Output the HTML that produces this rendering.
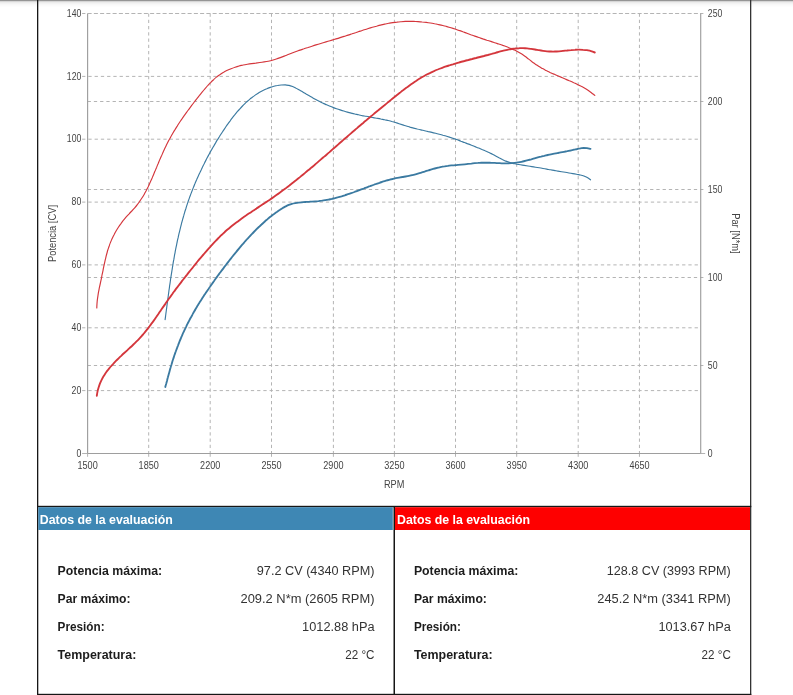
<!DOCTYPE html>
<html lang="es"><head><meta charset="utf-8"><title>Datos de la evaluación</title>
<style>html,body{margin:0;padding:0;background:#fff;}body{width:793px;height:695px;overflow:hidden;position:relative;font-family:"Liberation Sans",sans-serif;}svg{position:absolute;left:0;top:0;display:block;will-change:transform;}text{font-family:"Liberation Sans",sans-serif;}.ax{font-size:10.7px;fill:#444;}.at{font-size:10px;}.lb{font-size:12px;font-weight:bold;fill:#1c1c1c;}.vl{font-size:12px;fill:#333;}.hd{font-size:12px;font-weight:bold;fill:#fff;}</style></head><body>
<svg width="793" height="695" viewBox="0 0 793 695">
<rect x="0" y="0" width="793" height="695" fill="#fff"/>
<rect x="0" y="0" width="793" height="1" fill="#959595"/>
<rect x="0" y="1" width="793" height="1" fill="#d6d6d6"/>
<rect x="0" y="2" width="793" height="1" fill="#ececec"/>
<rect x="0" y="3" width="793" height="1" fill="#f3f3f3"/>
<rect x="0" y="4" width="793" height="1" fill="#f8f8f8"/>
<rect x="0" y="5" width="793" height="1" fill="#fbfbfb"/>
<rect x="0" y="6" width="793" height="1" fill="#fdfdfd"/>
<g stroke="#b4b4b4" stroke-width="1" stroke-dasharray="3.3 2.95" fill="none" shape-rendering="auto">
<path d="M148.70 13.5V453.5"/>
<path d="M210.20 13.5V453.5"/>
<path d="M271.50 13.5V453.5"/>
<path d="M333.40 13.5V453.5"/>
<path d="M394.40 13.5V453.5"/>
<path d="M455.50 13.5V453.5"/>
<path d="M516.70 13.5V453.5"/>
<path d="M578.20 13.5V453.5"/>
<path d="M639.45 13.5V453.5"/>
<path d="M82.1 390.6H698.7"/>
<path d="M82.1 327.8H698.7"/>
<path d="M82.1 264.9H698.7"/>
<path d="M82.1 202.1H698.7"/>
<path d="M82.1 139.2H698.7"/>
<path d="M82.1 76.4H698.7"/>
<path d="M82.1 13.5H698.7"/>
<path d="M87.6 365.5H705.2"/>
<path d="M87.6 277.5H705.2"/>
<path d="M87.6 189.5H705.2"/>
<path d="M87.6 101.5H705.2"/>
<path d="M87.6 13.5H705.2"/>
</g>
<g stroke="#b4b4b4" stroke-width="1" fill="none">
<path d="M82.1 453.5H87.6"/>
<path d="M700.7 453.5H705.2"/>
<path d="M87.60 453.5V456.8" stroke="#b4b4b4"/>
<path d="M148.70 453.5V456.8" stroke="#b4b4b4"/>
<path d="M210.20 453.5V456.8" stroke="#b4b4b4"/>
<path d="M271.50 453.5V456.8" stroke="#b4b4b4"/>
<path d="M333.40 453.5V456.8" stroke="#b4b4b4"/>
<path d="M394.40 453.5V456.8" stroke="#b4b4b4"/>
<path d="M455.50 453.5V456.8" stroke="#b4b4b4"/>
<path d="M516.70 453.5V456.8" stroke="#b4b4b4"/>
<path d="M578.20 453.5V456.8" stroke="#b4b4b4"/>
<path d="M639.45 453.5V456.8" stroke="#b4b4b4"/>
</g>
<g stroke="#9e9e9e" stroke-width="1.15" fill="none">
<path d="M87.6 13.5V453.5"/>
<path d="M700.7 13.5V453.5"/>
<path d="M87.6 453.5H700.7"/>
</g>
<g fill="none" stroke-linecap="round" stroke-linejoin="round">
<path d="M165.1 319.7C165.2 319.0 165.5 317.2 165.6 315.9C165.8 314.7 165.9 313.4 166.1 312.2C166.3 310.9 166.4 309.7 166.6 308.4C166.8 307.2 166.9 305.9 167.1 304.7C167.3 303.4 167.4 302.2 167.6 300.9C167.8 299.7 167.9 298.4 168.1 297.2C168.3 295.9 168.4 294.7 168.6 293.4C168.8 292.2 168.9 290.9 169.1 289.7C169.3 288.4 169.5 287.2 169.6 285.9C169.8 284.7 170.0 283.4 170.2 282.2C170.4 280.9 170.5 279.7 170.7 278.4C170.9 277.2 171.1 275.9 171.3 274.7C171.5 273.4 171.7 272.2 171.9 270.9C172.1 269.7 172.3 268.4 172.5 267.2C172.7 265.9 172.9 264.7 173.1 263.4C173.3 262.2 173.5 261.0 173.8 259.7C174.0 258.5 174.2 257.2 174.4 256.0C174.6 254.7 174.9 253.5 175.1 252.3C175.3 251.0 175.6 249.8 175.8 248.5C176.1 247.3 176.3 246.1 176.6 244.8C176.8 243.6 177.1 242.4 177.3 241.1C177.6 239.9 177.9 238.7 178.2 237.4C178.4 236.2 178.7 235.0 179.0 233.7C179.3 232.5 179.6 231.3 179.9 230.1C180.2 228.8 180.5 227.6 180.8 226.4C181.1 225.2 181.4 223.9 181.7 222.7C182.1 221.5 182.4 220.3 182.7 219.1C183.1 217.9 183.4 216.7 183.8 215.4C184.1 214.2 184.5 213.0 184.8 211.8C185.2 210.6 185.6 209.4 186.0 208.2C186.3 207.0 186.7 205.8 187.1 204.6C187.5 203.4 187.9 202.2 188.3 201.0C188.8 199.8 189.2 198.6 189.6 197.4C190.0 196.2 190.5 195.0 190.9 193.9C191.4 192.7 191.8 191.5 192.3 190.3C192.7 189.1 193.2 188.0 193.7 186.8C194.2 185.6 194.6 184.4 195.1 183.3C195.6 182.1 196.1 180.9 196.6 179.8C197.1 178.6 197.7 177.5 198.2 176.3C198.7 175.1 199.2 174.0 199.8 172.8C200.3 171.7 200.8 170.6 201.4 169.4C201.9 168.3 202.5 167.1 203.0 166.0C203.6 164.9 204.2 163.8 204.7 162.6C205.3 161.5 205.9 160.4 206.4 159.3C207.0 158.2 207.6 157.0 208.2 155.9C208.8 154.8 209.4 153.7 210.0 152.6C210.6 151.5 211.2 150.4 211.8 149.4C212.4 148.3 213.0 147.2 213.7 146.1C214.3 145.0 214.9 144.0 215.6 142.9C216.2 141.8 216.8 140.7 217.5 139.7C218.2 138.6 218.8 137.6 219.5 136.5C220.1 135.4 220.8 134.4 221.5 133.3C222.2 132.3 222.9 131.2 223.6 130.2C224.3 129.1 225.0 128.1 225.7 127.0C226.4 126.0 227.2 124.9 227.9 123.9C228.6 122.8 229.4 121.8 230.2 120.8C230.9 119.7 231.7 118.7 232.5 117.7C233.3 116.7 234.1 115.6 234.9 114.7C235.7 113.7 236.5 112.7 237.3 111.7C238.2 110.7 239.0 109.8 239.9 108.8C240.7 107.9 241.6 106.9 242.5 106.0C243.4 105.1 244.3 104.2 245.2 103.3C246.1 102.5 247.0 101.6 248.0 100.8C248.9 99.9 249.9 99.1 250.8 98.3C251.8 97.6 252.8 96.8 253.8 96.1C254.8 95.3 255.9 94.6 256.9 94.0C258.0 93.3 259.0 92.6 260.1 92.0C261.2 91.4 262.3 90.8 263.4 90.3C264.5 89.7 265.6 89.2 266.8 88.7C267.9 88.2 269.1 87.8 270.3 87.4C271.5 87.0 272.7 86.6 273.9 86.3C275.1 86.0 276.4 85.7 277.6 85.5C278.9 85.2 280.2 85.1 281.4 85.0C282.7 84.9 284.0 84.9 285.2 84.9C286.5 85.0 287.7 85.2 289.0 85.4C290.2 85.7 291.4 86.1 292.6 86.5C293.8 87.0 294.9 87.6 296.1 88.2C297.2 88.7 298.3 89.4 299.5 90.0C300.6 90.6 301.7 91.3 302.8 91.9C303.9 92.6 305.0 93.2 306.1 93.9C307.1 94.5 308.2 95.2 309.3 95.8C310.4 96.4 311.5 97.1 312.6 97.7C313.7 98.3 314.8 99.0 315.9 99.6C316.9 100.2 318.1 100.7 319.2 101.3C320.3 101.9 321.4 102.4 322.6 103.0C323.7 103.5 324.8 104.1 326.0 104.6C327.1 105.1 328.3 105.6 329.4 106.0C330.6 106.5 331.8 107.0 333.0 107.4C334.2 107.9 335.3 108.3 336.5 108.7C337.7 109.1 338.9 109.5 340.1 109.9C341.3 110.3 342.5 110.7 343.8 111.0C345.0 111.4 346.2 111.8 347.4 112.1C348.6 112.4 349.9 112.8 351.1 113.1C352.3 113.4 353.5 113.7 354.8 114.0C356.0 114.3 357.3 114.5 358.5 114.8C359.7 115.1 361.0 115.3 362.2 115.6C363.5 115.8 364.7 116.1 365.9 116.3C367.2 116.5 368.4 116.7 369.7 117.0C370.9 117.2 372.1 117.4 373.4 117.6C374.6 117.8 375.9 118.1 377.1 118.3C378.3 118.5 379.6 118.7 380.8 119.0C382.0 119.2 383.3 119.5 384.5 119.7C385.7 120.0 387.0 120.2 388.2 120.5C389.4 120.8 390.6 121.1 391.8 121.5C393.1 121.8 394.3 122.1 395.5 122.5C396.7 122.9 397.9 123.3 399.1 123.7C400.3 124.1 401.5 124.5 402.7 124.9C403.9 125.3 405.1 125.6 406.3 126.0C407.5 126.4 408.7 126.7 409.9 127.1C411.1 127.4 412.4 127.8 413.6 128.1C414.8 128.4 416.0 128.7 417.2 129.0C418.5 129.3 419.7 129.6 420.9 129.9C422.1 130.2 423.4 130.4 424.6 130.7C425.8 131.0 427.0 131.3 428.3 131.6C429.5 131.8 430.7 132.1 431.9 132.4C433.2 132.7 434.4 133.0 435.6 133.3C436.9 133.6 438.1 133.9 439.3 134.2C440.5 134.5 441.7 134.8 442.9 135.2C444.2 135.5 445.4 135.9 446.6 136.2C447.8 136.6 449.0 137.0 450.2 137.4C451.4 137.8 452.6 138.2 453.8 138.6C455.0 139.0 456.2 139.4 457.4 139.8C458.6 140.3 459.8 140.7 460.9 141.2C462.1 141.6 463.3 142.1 464.5 142.5C465.7 143.0 466.9 143.4 468.0 143.9C469.2 144.3 470.4 144.8 471.6 145.3C472.7 145.7 473.9 146.2 475.1 146.6C476.3 147.1 477.4 147.6 478.6 148.0C479.8 148.5 480.9 149.0 482.1 149.5C483.2 149.9 484.4 150.5 485.5 151.0C486.7 151.5 487.8 152.0 489.0 152.5C490.1 153.1 491.2 153.6 492.4 154.2C493.5 154.8 494.6 155.4 495.7 156.0C496.8 156.6 497.9 157.2 499.0 157.8C500.2 158.4 501.3 159.0 502.4 159.6C503.5 160.1 504.7 160.7 505.8 161.1C507.0 161.6 508.2 162.0 509.4 162.4C510.6 162.8 511.8 163.1 513.0 163.4C514.2 163.7 515.5 163.9 516.7 164.2C518.0 164.4 519.2 164.6 520.5 164.8C521.7 165.0 523.0 165.2 524.2 165.4C525.5 165.6 526.8 165.8 528.0 166.0C529.3 166.2 530.5 166.4 531.8 166.6C533.0 166.8 534.3 167.0 535.5 167.2C536.8 167.4 538.0 167.6 539.2 167.8C540.5 168.1 541.7 168.3 543.0 168.5C544.2 168.7 545.5 168.9 546.7 169.1C547.9 169.3 549.2 169.6 550.4 169.8C551.6 170.0 552.9 170.2 554.1 170.4C555.4 170.6 556.6 170.9 557.9 171.1C559.1 171.3 560.3 171.5 561.6 171.7C562.8 171.9 564.1 172.1 565.3 172.3C566.6 172.6 567.8 172.8 569.0 173.0C570.3 173.2 571.5 173.4 572.8 173.6C574.0 173.8 575.3 174.0 576.5 174.2C577.8 174.5 579.0 174.7 580.3 175.0C581.5 175.3 582.7 175.6 583.9 176.0C585.1 176.5 586.2 177.0 587.3 177.6C588.4 178.2 590.0 179.4 590.5 179.8" stroke="#3b7aa1" stroke-width="1.15"/>
<path d="M96.8 307.9C96.8 307.2 96.9 305.0 97.0 303.6C97.1 302.2 97.2 300.8 97.4 299.4C97.6 298.0 97.8 296.6 98.0 295.3C98.2 293.9 98.4 292.5 98.7 291.1C99.0 289.8 99.2 288.4 99.5 287.1C99.8 285.7 100.1 284.3 100.4 283.0C100.7 281.6 101.0 280.2 101.3 278.9C101.6 277.5 101.8 276.1 102.1 274.7C102.4 273.4 102.7 272.0 103.0 270.6C103.2 269.2 103.5 267.8 103.8 266.4C104.1 265.0 104.4 263.6 104.7 262.3C105.0 260.9 105.3 259.5 105.7 258.1C106.0 256.7 106.3 255.4 106.7 254.0C107.1 252.7 107.4 251.3 107.8 250.0C108.3 248.6 108.7 247.3 109.2 246.0C109.6 244.7 110.1 243.3 110.6 242.1C111.2 240.8 111.7 239.5 112.3 238.2C112.9 236.9 113.5 235.7 114.2 234.5C114.8 233.2 115.5 232.0 116.2 230.8C116.9 229.6 117.6 228.4 118.4 227.2C119.1 226.1 119.9 224.9 120.8 223.8C121.6 222.7 122.4 221.5 123.3 220.4C124.2 219.4 125.1 218.3 126.0 217.2C126.9 216.1 127.9 215.1 128.9 214.1C129.8 213.0 130.8 212.0 131.8 211.0C132.8 209.9 133.7 208.9 134.7 207.8C135.6 206.8 136.5 205.7 137.3 204.6C138.2 203.5 139.0 202.4 139.8 201.2C140.6 200.1 141.4 198.9 142.1 197.8C142.9 196.6 143.6 195.4 144.3 194.2C145.0 193.0 145.6 191.7 146.3 190.5C146.9 189.3 147.5 188.0 148.2 186.8C148.8 185.5 149.4 184.2 149.9 182.9C150.5 181.7 151.1 180.4 151.7 179.1C152.2 177.8 152.8 176.5 153.3 175.2C153.8 173.9 154.4 172.6 154.9 171.3C155.5 170.0 156.0 168.7 156.6 167.4C157.1 166.1 157.6 164.8 158.2 163.5C158.7 162.2 159.3 160.9 159.8 159.6C160.4 158.3 160.9 157.0 161.5 155.8C162.1 154.5 162.6 153.2 163.2 151.9C163.8 150.6 164.4 149.4 165.0 148.1C165.6 146.8 166.2 145.6 166.8 144.3C167.5 143.0 168.1 141.8 168.7 140.6C169.4 139.3 170.1 138.1 170.7 136.9C171.4 135.6 172.1 134.4 172.8 133.2C173.5 132.0 174.2 130.8 175.0 129.6C175.7 128.4 176.4 127.2 177.2 126.1C177.9 124.9 178.7 123.7 179.5 122.5C180.3 121.4 181.0 120.2 181.8 119.1C182.6 117.9 183.4 116.8 184.2 115.6C185.1 114.5 185.9 113.3 186.7 112.2C187.5 111.0 188.4 109.9 189.2 108.8C190.0 107.7 190.9 106.5 191.7 105.4C192.6 104.3 193.4 103.2 194.3 102.0C195.1 100.9 196.0 99.8 196.9 98.7C197.7 97.6 198.6 96.5 199.5 95.4C200.3 94.3 201.2 93.2 202.1 92.1C203.0 91.0 203.9 89.9 204.9 88.8C205.8 87.8 206.7 86.7 207.7 85.7C208.6 84.7 209.6 83.6 210.6 82.6C211.5 81.6 212.5 80.6 213.6 79.7C214.6 78.7 215.6 77.8 216.7 76.9C217.8 76.1 218.9 75.2 220.1 74.5C221.2 73.7 222.4 72.9 223.6 72.3C224.8 71.6 226.0 70.9 227.3 70.3C228.6 69.7 229.8 69.2 231.1 68.7C232.4 68.2 233.7 67.7 235.1 67.2C236.4 66.8 237.8 66.4 239.1 66.0C240.5 65.7 241.9 65.3 243.2 65.0C244.6 64.8 246.0 64.5 247.4 64.2C248.8 64.0 250.2 63.8 251.6 63.6C253.0 63.4 254.4 63.2 255.8 63.1C257.2 62.9 258.6 62.7 259.9 62.5C261.3 62.3 262.7 62.1 264.1 61.9C265.5 61.7 266.9 61.5 268.2 61.2C269.6 60.9 271.0 60.6 272.3 60.2C273.7 59.8 275.0 59.4 276.3 59.0C277.7 58.6 279.0 58.1 280.3 57.6C281.6 57.1 282.9 56.6 284.2 56.1C285.6 55.6 286.9 55.0 288.2 54.5C289.5 54.0 290.8 53.5 292.1 53.0C293.4 52.5 294.8 52.0 296.1 51.5C297.4 51.0 298.7 50.6 300.0 50.1C301.4 49.7 302.7 49.2 304.0 48.8C305.3 48.3 306.7 47.9 308.0 47.5C309.3 47.0 310.6 46.6 312.0 46.2C313.3 45.8 314.6 45.4 316.0 44.9C317.3 44.5 318.6 44.1 320.0 43.7C321.3 43.3 322.6 42.9 324.0 42.5C325.3 42.1 326.7 41.7 328.0 41.3C329.3 40.9 330.7 40.5 332.0 40.1C333.3 39.7 334.7 39.3 336.0 38.9C337.4 38.5 338.7 38.1 340.1 37.6C341.4 37.2 342.7 36.8 344.1 36.4C345.4 36.0 346.8 35.5 348.1 35.1C349.5 34.7 350.8 34.2 352.1 33.8C353.5 33.3 354.8 32.9 356.2 32.5C357.5 32.0 358.9 31.6 360.2 31.1C361.5 30.7 362.9 30.2 364.2 29.8C365.6 29.4 366.9 29.0 368.3 28.5C369.7 28.1 371.0 27.7 372.4 27.3C373.7 26.9 375.1 26.5 376.4 26.2C377.8 25.8 379.1 25.4 380.5 25.1C381.9 24.8 383.2 24.4 384.6 24.1C386.0 23.8 387.3 23.6 388.7 23.3C390.1 23.1 391.5 22.8 392.8 22.6C394.2 22.4 395.6 22.2 397.0 22.1C398.4 21.9 399.8 21.8 401.1 21.7C402.5 21.6 403.9 21.5 405.3 21.4C406.7 21.4 408.1 21.4 409.5 21.4C410.9 21.4 412.3 21.4 413.7 21.4C415.1 21.5 416.5 21.5 417.9 21.6C419.3 21.7 420.7 21.8 422.1 22.0C423.5 22.1 424.9 22.3 426.2 22.4C427.6 22.6 429.0 22.8 430.4 23.0C431.8 23.2 433.2 23.5 434.6 23.8C436.0 24.0 437.3 24.3 438.7 24.6C440.1 24.9 441.5 25.2 442.8 25.5C444.2 25.9 445.6 26.2 446.9 26.6C448.3 27.0 449.6 27.4 451.0 27.8C452.3 28.2 453.7 28.6 455.0 29.0C456.3 29.5 457.7 29.9 459.0 30.4C460.3 30.8 461.6 31.3 462.9 31.8C464.3 32.3 465.6 32.7 466.9 33.2C468.2 33.7 469.5 34.2 470.8 34.7C472.2 35.2 473.5 35.6 474.8 36.1C476.1 36.6 477.4 37.1 478.8 37.5C480.1 38.0 481.4 38.4 482.8 38.9C484.1 39.3 485.4 39.7 486.8 40.2C488.1 40.6 489.5 41.0 490.8 41.4C492.1 41.9 493.5 42.3 494.8 42.7C496.1 43.1 497.5 43.6 498.8 44.0C500.2 44.5 501.5 44.9 502.8 45.4C504.1 45.8 505.5 46.3 506.8 46.8C508.1 47.3 509.4 47.8 510.7 48.4C512.0 48.9 513.2 49.5 514.5 50.1C515.8 50.7 517.0 51.3 518.2 52.0C519.4 52.7 520.6 53.4 521.8 54.1C523.0 54.9 524.1 55.7 525.3 56.5C526.4 57.3 527.5 58.2 528.7 59.1C529.8 59.9 530.9 60.8 532.0 61.7C533.2 62.5 534.3 63.4 535.4 64.2C536.6 65.0 537.8 65.7 539.0 66.5C540.1 67.2 541.4 67.9 542.6 68.6C543.8 69.3 545.0 69.9 546.3 70.6C547.5 71.2 548.8 71.8 550.0 72.4C551.3 73.0 552.6 73.6 553.9 74.1C555.1 74.7 556.4 75.3 557.7 75.8C559.0 76.4 560.3 76.9 561.6 77.4C562.9 78.0 564.2 78.5 565.5 79.1C566.8 79.6 568.1 80.1 569.3 80.7C570.6 81.3 571.9 81.8 573.2 82.4C574.5 83.0 575.7 83.6 577.0 84.2C578.2 84.8 579.5 85.4 580.7 86.1C582.0 86.7 583.2 87.4 584.4 88.1C585.6 88.8 586.8 89.5 588.0 90.3C589.1 91.1 590.3 91.9 591.4 92.7C592.5 93.6 594.2 94.9 594.8 95.4" stroke="#d4363c" stroke-width="1.15"/>
<path d="M165.3 387.0C165.4 386.4 165.9 384.8 166.2 383.8C166.5 382.7 166.8 381.6 167.1 380.5C167.3 379.4 167.6 378.3 167.9 377.3C168.2 376.2 168.5 375.1 168.8 374.0C169.1 372.9 169.4 371.9 169.7 370.8C170.0 369.7 170.3 368.6 170.6 367.6C170.9 366.5 171.2 365.4 171.6 364.3C171.9 363.3 172.2 362.2 172.5 361.1C172.9 360.1 173.2 359.0 173.6 357.9C173.9 356.9 174.2 355.8 174.6 354.7C175.0 353.7 175.3 352.6 175.7 351.6C176.1 350.5 176.5 349.5 176.9 348.4C177.2 347.4 177.6 346.3 178.1 345.3C178.5 344.2 178.9 343.2 179.3 342.1C179.7 341.1 180.1 340.0 180.6 339.0C181.0 338.0 181.4 336.9 181.9 335.9C182.3 334.9 182.8 333.9 183.2 332.8C183.7 331.8 184.2 330.8 184.6 329.8C185.1 328.8 185.6 327.8 186.1 326.8C186.6 325.7 187.1 324.7 187.6 323.7C188.1 322.7 188.6 321.8 189.1 320.8C189.6 319.8 190.1 318.8 190.7 317.8C191.2 316.8 191.7 315.8 192.3 314.9C192.8 313.9 193.4 312.9 193.9 311.9C194.5 311.0 195.1 310.0 195.6 309.0C196.2 308.1 196.8 307.1 197.3 306.1C197.9 305.2 198.5 304.2 199.1 303.3C199.7 302.3 200.3 301.4 200.9 300.4C201.5 299.5 202.1 298.6 202.7 297.6C203.3 296.7 203.9 295.7 204.5 294.8C205.1 293.9 205.8 292.9 206.4 292.0C207.0 291.1 207.6 290.2 208.3 289.2C208.9 288.3 209.5 287.4 210.2 286.5C210.8 285.5 211.5 284.6 212.1 283.7C212.8 282.8 213.4 281.9 214.1 281.0C214.7 280.1 215.4 279.1 216.0 278.2C216.7 277.3 217.3 276.4 218.0 275.5C218.7 274.6 219.3 273.7 220.0 272.8C220.7 271.9 221.3 271.0 222.0 270.1C222.7 269.2 223.4 268.3 224.0 267.4C224.7 266.5 225.4 265.6 226.1 264.7C226.8 263.8 227.4 263.0 228.1 262.1C228.8 261.2 229.5 260.3 230.2 259.4C230.9 258.5 231.6 257.7 232.3 256.8C233.0 255.9 233.7 255.0 234.4 254.2C235.1 253.3 235.8 252.4 236.5 251.6C237.2 250.7 237.9 249.8 238.7 249.0C239.4 248.1 240.1 247.3 240.8 246.4C241.5 245.5 242.3 244.7 243.0 243.9C243.7 243.0 244.5 242.2 245.2 241.3C245.9 240.5 246.7 239.7 247.4 238.8C248.2 238.0 248.9 237.2 249.7 236.4C250.4 235.5 251.2 234.7 252.0 233.9C252.7 233.1 253.5 232.3 254.3 231.5C255.1 230.7 255.9 229.9 256.6 229.1C257.4 228.3 258.2 227.6 259.1 226.8C259.9 226.0 260.7 225.2 261.5 224.5C262.3 223.7 263.1 223.0 264.0 222.2C264.8 221.5 265.6 220.7 266.5 220.0C267.4 219.3 268.2 218.5 269.1 217.8C270.0 217.1 270.8 216.4 271.7 215.7C272.6 215.0 273.5 214.3 274.4 213.7C275.3 213.0 276.2 212.3 277.2 211.7C278.1 211.0 279.0 210.4 280.0 209.8C280.9 209.1 281.9 208.5 282.8 207.9C283.8 207.4 284.8 206.8 285.8 206.3C286.8 205.8 287.8 205.3 288.8 204.9C289.8 204.5 290.9 204.1 291.9 203.8C293.0 203.5 294.1 203.3 295.2 203.1C296.3 202.9 297.4 202.7 298.5 202.6C299.6 202.5 300.7 202.4 301.8 202.3C302.9 202.2 304.1 202.1 305.2 202.0C306.3 201.9 307.4 201.9 308.6 201.8C309.7 201.7 310.8 201.7 311.9 201.6C313.0 201.5 314.1 201.4 315.2 201.3C316.4 201.3 317.5 201.2 318.6 201.1C319.7 200.9 320.8 200.8 321.9 200.7C323.0 200.5 324.1 200.4 325.2 200.2C326.3 200.0 327.4 199.8 328.5 199.6C329.6 199.4 330.7 199.1 331.8 198.9C332.9 198.6 334.0 198.4 335.1 198.1C336.2 197.8 337.3 197.5 338.4 197.2C339.4 196.9 340.5 196.6 341.6 196.3C342.7 195.9 343.7 195.6 344.8 195.3C345.9 194.9 346.9 194.6 348.0 194.2C349.1 193.9 350.1 193.5 351.2 193.1C352.2 192.8 353.3 192.4 354.4 192.0C355.4 191.6 356.5 191.2 357.5 190.8C358.6 190.5 359.6 190.1 360.6 189.7C361.7 189.3 362.7 188.9 363.8 188.5C364.8 188.1 365.9 187.7 366.9 187.3C368.0 186.9 369.0 186.5 370.1 186.2C371.1 185.8 372.2 185.4 373.2 185.0C374.3 184.6 375.3 184.2 376.4 183.9C377.4 183.5 378.5 183.1 379.6 182.8C380.6 182.4 381.7 182.1 382.7 181.7C383.8 181.4 384.9 181.0 385.9 180.7C387.0 180.4 388.1 180.1 389.2 179.8C390.3 179.5 391.3 179.2 392.4 179.0C393.5 178.7 394.6 178.5 395.7 178.2C396.8 178.0 397.9 177.8 399.0 177.6C400.1 177.4 401.2 177.2 402.3 177.0C403.4 176.8 404.5 176.7 405.6 176.5C406.8 176.3 407.9 176.1 409.0 175.8C410.1 175.6 411.2 175.4 412.2 175.1C413.3 174.9 414.4 174.6 415.5 174.3C416.6 174.0 417.6 173.7 418.7 173.4C419.8 173.1 420.9 172.7 421.9 172.4C423.0 172.1 424.1 171.7 425.1 171.4C426.2 171.0 427.3 170.7 428.4 170.4C429.4 170.1 430.5 169.7 431.6 169.4C432.7 169.1 433.7 168.8 434.8 168.5C435.9 168.2 437.0 167.9 438.1 167.6C439.1 167.4 440.2 167.1 441.3 166.9C442.4 166.7 443.5 166.4 444.6 166.3C445.7 166.1 446.8 165.9 447.9 165.8C449.0 165.6 450.1 165.5 451.3 165.4C452.4 165.3 453.5 165.2 454.6 165.2C455.7 165.1 456.9 165.0 458.0 164.9C459.1 164.8 460.2 164.7 461.3 164.6C462.5 164.5 463.6 164.4 464.7 164.3C465.8 164.2 466.9 164.1 468.0 163.9C469.1 163.8 470.2 163.7 471.4 163.6C472.5 163.4 473.6 163.3 474.7 163.2C475.8 163.1 476.9 163.0 478.0 162.9C479.1 162.9 480.3 162.8 481.4 162.7C482.5 162.7 483.6 162.7 484.7 162.7C485.8 162.7 487.0 162.7 488.1 162.7C489.2 162.7 490.3 162.8 491.4 162.8C492.6 162.8 493.7 162.9 494.8 162.9C495.9 163.0 497.0 163.1 498.1 163.1C499.3 163.2 500.4 163.2 501.5 163.3C502.6 163.3 503.7 163.3 504.9 163.3C506.0 163.4 507.1 163.4 508.2 163.3C509.3 163.3 510.4 163.3 511.5 163.2C512.6 163.1 513.7 163.0 514.9 162.9C516.0 162.8 517.1 162.6 518.2 162.4C519.3 162.2 520.3 162.0 521.4 161.8C522.5 161.6 523.6 161.3 524.7 161.0C525.8 160.8 526.9 160.5 528.0 160.2C529.1 159.9 530.2 159.6 531.3 159.3C532.3 159.0 533.4 158.7 534.5 158.3C535.6 158.0 536.7 157.7 537.8 157.4C538.9 157.1 540.0 156.8 541.0 156.6C542.1 156.3 543.2 156.0 544.3 155.8C545.4 155.5 546.5 155.3 547.6 155.0C548.7 154.8 549.8 154.6 550.9 154.3C552.0 154.1 553.1 153.9 554.2 153.7C555.3 153.5 556.4 153.3 557.5 153.1C558.5 152.9 559.6 152.7 560.7 152.4C561.8 152.2 562.9 152.0 564.0 151.8C565.1 151.6 566.2 151.4 567.3 151.2C568.4 150.9 569.5 150.7 570.6 150.5C571.7 150.2 572.8 150.0 573.9 149.7C575.0 149.5 576.1 149.2 577.2 149.0C578.3 148.7 579.4 148.5 580.5 148.3C581.6 148.2 582.7 148.0 583.8 148.0C584.9 148.0 586.0 148.0 587.1 148.1C588.3 148.3 589.9 148.8 590.5 148.9" stroke="#3b7aa1" stroke-width="1.85"/>
<path d="M96.8 395.9C96.9 395.2 97.2 393.0 97.5 391.6C97.8 390.2 98.2 388.9 98.6 387.6C99.0 386.2 99.4 385.0 99.9 383.7C100.4 382.5 100.9 381.3 101.5 380.1C102.1 378.9 102.7 377.7 103.4 376.6C104.1 375.5 104.8 374.4 105.5 373.3C106.3 372.2 107.0 371.1 107.8 370.1C108.6 369.0 109.5 368.0 110.3 367.0C111.2 366.0 112.1 365.0 113.0 364.1C113.9 363.1 114.8 362.1 115.7 361.2C116.7 360.2 117.6 359.3 118.6 358.3C119.5 357.4 120.5 356.5 121.5 355.6C122.5 354.6 123.5 353.7 124.5 352.8C125.5 351.9 126.5 351.0 127.5 350.1C128.5 349.2 129.5 348.2 130.5 347.3C131.5 346.4 132.4 345.5 133.4 344.5C134.4 343.6 135.4 342.7 136.3 341.7C137.2 340.8 138.2 339.8 139.1 338.8C140.0 337.8 140.9 336.8 141.8 335.8C142.7 334.8 143.5 333.8 144.4 332.8C145.3 331.8 146.1 330.7 146.9 329.7C147.7 328.6 148.6 327.6 149.4 326.5C150.2 325.5 151.0 324.4 151.7 323.3C152.5 322.3 153.3 321.2 154.1 320.1C154.9 319.0 155.6 317.9 156.4 316.8C157.1 315.7 157.9 314.6 158.7 313.5C159.4 312.4 160.2 311.3 160.9 310.2C161.7 309.1 162.4 308.0 163.2 306.9C163.9 305.8 164.7 304.7 165.5 303.6C166.2 302.5 167.0 301.4 167.8 300.3C168.6 299.2 169.3 298.1 170.1 297.1C170.9 296.0 171.7 294.9 172.5 293.8C173.2 292.7 174.0 291.7 174.8 290.6C175.6 289.5 176.4 288.4 177.2 287.4C178.0 286.3 178.8 285.2 179.7 284.1C180.5 283.1 181.3 282.0 182.1 280.9C182.9 279.9 183.7 278.8 184.6 277.8C185.4 276.7 186.2 275.7 187.1 274.6C187.9 273.5 188.7 272.5 189.6 271.4C190.4 270.4 191.2 269.3 192.1 268.3C192.9 267.3 193.8 266.2 194.6 265.2C195.4 264.1 196.3 263.1 197.1 262.0C198.0 261.0 198.9 260.0 199.7 258.9C200.6 257.9 201.4 256.9 202.3 255.8C203.2 254.8 204.0 253.8 204.9 252.8C205.8 251.8 206.7 250.8 207.5 249.8C208.4 248.7 209.3 247.7 210.2 246.8C211.1 245.8 212.0 244.8 212.9 243.8C213.8 242.8 214.8 241.8 215.7 240.9C216.6 239.9 217.5 239.0 218.5 238.0C219.4 237.1 220.4 236.2 221.3 235.2C222.3 234.3 223.3 233.4 224.3 232.5C225.2 231.6 226.2 230.7 227.2 229.8C228.2 229.0 229.3 228.1 230.3 227.2C231.3 226.4 232.3 225.6 233.4 224.7C234.4 223.9 235.5 223.1 236.6 222.3C237.6 221.5 238.7 220.7 239.8 219.9C240.9 219.1 241.9 218.3 243.0 217.6C244.1 216.8 245.2 216.0 246.3 215.3C247.4 214.5 248.5 213.8 249.7 213.0C250.8 212.3 251.9 211.5 253.0 210.8C254.1 210.0 255.3 209.3 256.4 208.6C257.5 207.8 258.6 207.1 259.8 206.3C260.9 205.6 262.0 204.9 263.1 204.1C264.2 203.4 265.4 202.6 266.5 201.9C267.6 201.2 268.7 200.4 269.8 199.7C270.9 198.9 272.0 198.1 273.1 197.4C274.2 196.6 275.3 195.8 276.4 195.0C277.5 194.3 278.6 193.5 279.7 192.7C280.8 191.9 281.9 191.1 282.9 190.3C284.0 189.5 285.1 188.7 286.2 187.9C287.2 187.1 288.3 186.3 289.4 185.5C290.4 184.6 291.5 183.8 292.5 183.0C293.6 182.2 294.6 181.3 295.7 180.5C296.7 179.7 297.8 178.8 298.8 178.0C299.9 177.2 300.9 176.3 301.9 175.5C303.0 174.6 304.0 173.8 305.1 172.9C306.1 172.1 307.1 171.2 308.1 170.3C309.2 169.5 310.2 168.6 311.2 167.8C312.2 166.9 313.3 166.0 314.3 165.2C315.3 164.3 316.3 163.4 317.3 162.6C318.4 161.7 319.4 160.8 320.4 159.9C321.4 159.1 322.4 158.2 323.4 157.3C324.5 156.4 325.5 155.6 326.5 154.7C327.5 153.8 328.5 152.9 329.5 152.1C330.5 151.2 331.5 150.3 332.5 149.4C333.5 148.5 334.6 147.6 335.6 146.8C336.6 145.9 337.6 145.0 338.6 144.1C339.6 143.2 340.6 142.4 341.6 141.5C342.6 140.6 343.6 139.7 344.6 138.8C345.6 138.0 346.7 137.1 347.7 136.2C348.7 135.3 349.7 134.5 350.7 133.6C351.7 132.7 352.7 131.8 353.7 131.0C354.8 130.1 355.8 129.2 356.8 128.4C357.8 127.5 358.8 126.6 359.8 125.8C360.9 124.9 361.9 124.0 362.9 123.2C363.9 122.3 364.9 121.4 366.0 120.6C367.0 119.7 368.0 118.8 369.0 118.0C370.1 117.1 371.1 116.2 372.1 115.4C373.1 114.5 374.2 113.7 375.2 112.8C376.2 112.0 377.3 111.1 378.3 110.3C379.3 109.4 380.4 108.6 381.4 107.7C382.4 106.8 383.5 106.0 384.5 105.2C385.5 104.3 386.6 103.4 387.6 102.6C388.7 101.8 389.7 100.9 390.7 100.1C391.8 99.2 392.8 98.4 393.9 97.5C394.9 96.7 396.0 95.9 397.0 95.0C398.1 94.2 399.1 93.3 400.2 92.5C401.2 91.7 402.3 90.8 403.4 90.0C404.4 89.2 405.5 88.4 406.6 87.6C407.6 86.8 408.7 86.0 409.8 85.2C410.9 84.4 412.0 83.7 413.1 82.9C414.2 82.1 415.3 81.4 416.4 80.7C417.5 79.9 418.7 79.2 419.8 78.5C420.9 77.8 422.1 77.1 423.2 76.5C424.4 75.8 425.6 75.2 426.7 74.5C427.9 73.9 429.1 73.3 430.3 72.8C431.5 72.2 432.7 71.6 434.0 71.1C435.2 70.5 436.4 70.0 437.7 69.5C438.9 69.0 440.2 68.5 441.4 68.1C442.7 67.6 443.9 67.2 445.2 66.7C446.5 66.3 447.8 65.9 449.0 65.5C450.3 65.0 451.6 64.6 452.9 64.3C454.2 63.9 455.5 63.5 456.8 63.1C458.1 62.7 459.3 62.4 460.6 62.0C461.9 61.7 463.2 61.3 464.5 61.0C465.8 60.6 467.1 60.3 468.4 60.0C469.7 59.6 470.9 59.3 472.2 59.0C473.5 58.6 474.8 58.3 476.1 58.0C477.4 57.6 478.7 57.3 480.0 57.0C481.3 56.7 482.6 56.3 483.9 56.0C485.2 55.6 486.5 55.3 487.8 55.0C489.1 54.6 490.4 54.2 491.7 53.9C493.0 53.5 494.3 53.2 495.6 52.8C496.9 52.4 498.2 52.1 499.5 51.7C500.8 51.4 502.1 51.0 503.4 50.7C504.7 50.4 506.0 50.1 507.3 49.8C508.6 49.5 510.0 49.3 511.3 49.0C512.6 48.8 513.9 48.6 515.2 48.5C516.5 48.3 517.9 48.2 519.2 48.2C520.5 48.1 521.8 48.1 523.1 48.1C524.4 48.2 525.8 48.3 527.1 48.4C528.4 48.5 529.7 48.7 531.1 48.9C532.4 49.1 533.7 49.3 535.0 49.5C536.4 49.7 537.7 50.0 539.0 50.2C540.3 50.4 541.7 50.6 543.0 50.8C544.3 51.0 545.7 51.2 547.0 51.3C548.3 51.4 549.7 51.5 551.0 51.5C552.4 51.6 553.7 51.6 555.0 51.5C556.4 51.5 557.7 51.4 559.0 51.3C560.4 51.2 561.7 51.1 563.0 50.9C564.4 50.8 565.7 50.6 567.1 50.5C568.4 50.3 569.7 50.2 571.1 50.1C572.4 49.9 573.7 49.8 575.0 49.8C576.4 49.7 577.7 49.6 579.0 49.6C580.4 49.6 581.7 49.6 583.0 49.8C584.3 49.9 585.6 50.0 586.9 50.2C588.3 50.5 589.6 50.7 590.9 51.1C592.2 51.5 594.1 52.3 594.8 52.5" stroke="#d4363c" stroke-width="1.85"/>
</g>
<g class="ax">
<text x="81.3" y="456.7" text-anchor="end" textLength="4.8" lengthAdjust="spacingAndGlyphs">0</text>
<text x="81.3" y="393.8" text-anchor="end" textLength="9.7" lengthAdjust="spacingAndGlyphs">20</text>
<text x="81.3" y="331.0" text-anchor="end" textLength="9.7" lengthAdjust="spacingAndGlyphs">40</text>
<text x="81.3" y="268.1" text-anchor="end" textLength="9.7" lengthAdjust="spacingAndGlyphs">60</text>
<text x="81.3" y="205.3" text-anchor="end" textLength="9.7" lengthAdjust="spacingAndGlyphs">80</text>
<text x="81.3" y="142.4" text-anchor="end" textLength="14.5" lengthAdjust="spacingAndGlyphs">100</text>
<text x="81.3" y="79.6" text-anchor="end" textLength="14.5" lengthAdjust="spacingAndGlyphs">120</text>
<text x="81.3" y="16.7" text-anchor="end" textLength="14.5" lengthAdjust="spacingAndGlyphs">140</text>
<text x="707.8" y="456.7" textLength="4.8" lengthAdjust="spacingAndGlyphs">0</text>
<text x="707.8" y="368.7" textLength="9.7" lengthAdjust="spacingAndGlyphs">50</text>
<text x="707.8" y="280.7" textLength="14.5" lengthAdjust="spacingAndGlyphs">100</text>
<text x="707.8" y="192.7" textLength="14.5" lengthAdjust="spacingAndGlyphs">150</text>
<text x="707.8" y="104.7" textLength="14.5" lengthAdjust="spacingAndGlyphs">200</text>
<text x="707.8" y="16.7" textLength="14.5" lengthAdjust="spacingAndGlyphs">250</text>
<text x="87.6" y="469.2" text-anchor="middle" textLength="20.2" lengthAdjust="spacingAndGlyphs">1500</text>
<text x="148.7" y="469.2" text-anchor="middle" textLength="20.2" lengthAdjust="spacingAndGlyphs">1850</text>
<text x="210.2" y="469.2" text-anchor="middle" textLength="20.2" lengthAdjust="spacingAndGlyphs">2200</text>
<text x="271.5" y="469.2" text-anchor="middle" textLength="20.2" lengthAdjust="spacingAndGlyphs">2550</text>
<text x="333.4" y="469.2" text-anchor="middle" textLength="20.2" lengthAdjust="spacingAndGlyphs">2900</text>
<text x="394.4" y="469.2" text-anchor="middle" textLength="20.2" lengthAdjust="spacingAndGlyphs">3250</text>
<text x="455.5" y="469.2" text-anchor="middle" textLength="20.2" lengthAdjust="spacingAndGlyphs">3600</text>
<text x="516.7" y="469.2" text-anchor="middle" textLength="20.2" lengthAdjust="spacingAndGlyphs">3950</text>
<text x="578.2" y="469.2" text-anchor="middle" textLength="20.2" lengthAdjust="spacingAndGlyphs">4300</text>
<text x="639.5" y="469.2" text-anchor="middle" textLength="20.2" lengthAdjust="spacingAndGlyphs">4650</text>
<text class="at" x="394.1" y="487.5" text-anchor="middle" textLength="20.4" lengthAdjust="spacingAndGlyphs">RPM</text>
<text class="at" transform="translate(55.8 233.5) rotate(-90)" text-anchor="middle" textLength="57" lengthAdjust="spacingAndGlyphs">Potencia [CV]</text>
<text class="at" transform="translate(732.4 233.4) rotate(90)" text-anchor="middle" textLength="40.5" lengthAdjust="spacingAndGlyphs">Par [N*m]</text>
</g>
<rect x="37" y="0" width="1.3" height="695" fill="#161616"/>
<rect x="750" y="0" width="1.3" height="695" fill="#333"/>
<rect x="37" y="505.8" width="714.3" height="1.4" fill="#161616"/>
<rect x="37" y="693.8" width="714.3" height="1.2" fill="#161616"/>
<rect x="393.5" y="506" width="1.5" height="189" fill="#161616"/>
<rect x="38.3" y="507.2" width="354.5" height="22.8" fill="#3e87b4"/>
<rect x="395" y="507.2" width="355" height="22.8" fill="#fe0000"/>
<text class="hd" x="39.8" y="523.8" textLength="133" lengthAdjust="spacingAndGlyphs">Datos de la evaluación</text>
<text class="hd" x="397" y="523.8" textLength="133" lengthAdjust="spacingAndGlyphs">Datos de la evaluación</text>
<text class="lb" x="57.6" y="575.2" textLength="104.5" lengthAdjust="spacingAndGlyphs">Potencia máxima:</text>
<text class="lb" x="413.9" y="575.2" textLength="104.5" lengthAdjust="spacingAndGlyphs">Potencia máxima:</text>
<text class="lb" x="57.6" y="603.0" textLength="73.0" lengthAdjust="spacingAndGlyphs">Par máximo:</text>
<text class="lb" x="413.9" y="603.0" textLength="73.0" lengthAdjust="spacingAndGlyphs">Par máximo:</text>
<text class="lb" x="57.6" y="630.8" textLength="47.0" lengthAdjust="spacingAndGlyphs">Presión:</text>
<text class="lb" x="413.9" y="630.8" textLength="47.0" lengthAdjust="spacingAndGlyphs">Presión:</text>
<text class="lb" x="57.6" y="658.6" textLength="78.7" lengthAdjust="spacingAndGlyphs">Temperatura:</text>
<text class="lb" x="413.9" y="658.6" textLength="78.7" lengthAdjust="spacingAndGlyphs">Temperatura:</text>
<text class="vl" x="374.5" y="575.2" text-anchor="end" textLength="117.7" lengthAdjust="spacingAndGlyphs">97.2 CV (4340 RPM)</text>
<text class="vl" x="374.5" y="603.0" text-anchor="end" textLength="134.0" lengthAdjust="spacingAndGlyphs">209.2 N*m (2605 RPM)</text>
<text class="vl" x="374.5" y="630.8" text-anchor="end" textLength="72.4" lengthAdjust="spacingAndGlyphs">1012.88 hPa</text>
<text class="vl" x="374.5" y="658.6" text-anchor="end" textLength="29.2" lengthAdjust="spacingAndGlyphs">22 °C</text>
<text class="vl" x="730.8" y="575.2" text-anchor="end" textLength="124.0" lengthAdjust="spacingAndGlyphs">128.8 CV (3993 RPM)</text>
<text class="vl" x="730.8" y="603.0" text-anchor="end" textLength="133.5" lengthAdjust="spacingAndGlyphs">245.2 N*m (3341 RPM)</text>
<text class="vl" x="730.8" y="630.8" text-anchor="end" textLength="72.4" lengthAdjust="spacingAndGlyphs">1013.67 hPa</text>
<text class="vl" x="730.8" y="658.6" text-anchor="end" textLength="29.2" lengthAdjust="spacingAndGlyphs">22 °C</text>
</svg></body></html>
